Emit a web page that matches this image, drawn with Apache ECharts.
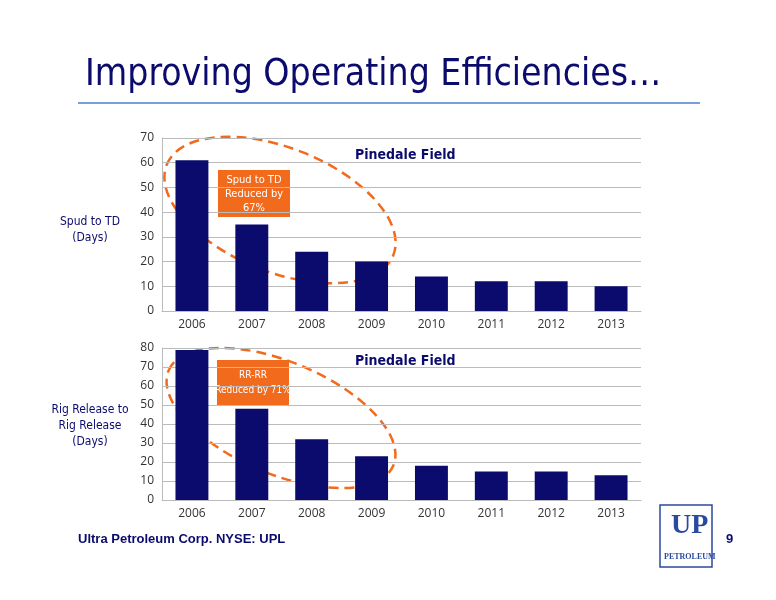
<!DOCTYPE html>
<html><head><meta charset="utf-8">
<script src="https://cdn.jsdelivr.net/npm/echarts@6/dist/echarts.min.js"></script>
<style>body{margin:0;background:#fff}#c{width:776px;height:600px}</style>
</head><body><div id="c"></div>
<script>
const years = ['2006', '2007', '2008', '2009', '2010', '2011', '2012', '2013'];
const spudToTd = [61, 35, 24, 20, 14, 12, 12, 10];
const rigToRig = [79, 48, 32, 23, 18, 15, 15, 13];

const navy = '#0b0b6e';
const orange = '#f26a1b';
const chart = echarts.init(document.getElementById('c'));

const xAx = (i) => ({
  type: 'category', gridIndex: i, data: years,
  axisTick: {show: false}, axisLine: {lineStyle: {color: '#bbb'}},
  axisLabel: {color: '#333', fontSize: 12, fontFamily: 'Open Sans'}
});
const yAx = (i, max) => ({
  type: 'value', gridIndex: i, min: 0, max: max, interval: 10,
  axisLabel: {color: '#333', fontSize: 12, fontFamily: 'Open Sans'},
  splitLine: {lineStyle: {color: '#bbb'}}, axisLine: {show: true, lineStyle: {color: '#bbb'}}
});

chart.setOption({
  animation: false,
  title: [
    {text: 'Improving Operating Efficiencies…', left: 80, top: 52,
     textStyle: {color: navy, fontSize: 37, fontWeight: 'normal', fontFamily: 'DejaVu Sans Condensed'}},
    {text: 'Pinedale Field', left: 350, top: 143, textStyle: {color: navy, fontSize: 14, fontWeight: 'bold', fontFamily: 'DejaVu Sans Condensed'}},
    {text: 'Pinedale Field', left: 350, top: 349, textStyle: {color: navy, fontSize: 14, fontWeight: 'bold', fontFamily: 'DejaVu Sans Condensed'}}
  ],
  grid: [
    {left: 162, right: 135, top: 138, height: 173},
    {left: 162, right: 135, top: 348, height: 152}
  ],
  xAxis: [xAx(0), xAx(1)],
  yAxis: [yAx(0, 70), yAx(1, 80)],
  series: [
    {type: 'bar', xAxisIndex: 0, yAxisIndex: 0, data: spudToTd, barWidth: '55%', itemStyle: {color: navy}},
    {type: 'bar', xAxisIndex: 1, yAxisIndex: 1, data: rigToRig, barWidth: '55%', itemStyle: {color: navy}}
  ],
  graphic: [
    {type: 'line', shape: {x1: 78, y1: 103, x2: 700, y2: 103}, style: {stroke: '#4a7fd0', lineWidth: 1.5}},
    {type: 'text', style: {text: 'Spud to TD\n(Days)', fill: navy, font: '12px DejaVu Sans Condensed', textAlign: 'center', x: 90, y: 214, lineHeight: 16}},
    {type: 'text', style: {text: 'Rig Release to\nRig Release\n(Days)', fill: navy, font: '12px DejaVu Sans Condensed', textAlign: 'center', x: 90, y: 402, lineHeight: 16}},
    {type: 'rect', shape: {x: 218, y: 170, width: 72, height: 47}, style: {fill: orange}},
    {type: 'text', style: {text: 'Spud to TD\nReduced by\n67%', fill: '#fff', font: '11px DejaVu Sans Condensed', textAlign: 'center', x: 254, y: 173, lineHeight: 14}},
    {type: 'rect', shape: {x: 217, y: 360, width: 72, height: 45}, style: {fill: orange}},
    {type: 'text', style: {text: 'RR-RR\nReduced by 71%', fill: '#fff', font: '10px DejaVu Sans Condensed', textAlign: 'center', x: 253, y: 368, lineHeight: 15}},
    {type: 'ellipse', shape: {cx: 0, cy: 0, rx: 122, ry: 62}, x: 280, y: 210, rotation: -0.38,
     style: {fill: 'none', stroke: orange, lineWidth: 2.5, lineDash: [10, 6]}},
    {type: 'ellipse', shape: {cx: 0, cy: 0, rx: 122, ry: 56}, x: 281, y: 418, rotation: -0.4,
     style: {fill: 'none', stroke: orange, lineWidth: 2.5, lineDash: [10, 6]}},
    {type: 'text', style: {text: 'Ultra Petroleum Corp. NYSE: UPL', fill: navy, font: 'bold 13px Liberation Sans', x: 78, y: 533}},
    {type: 'text', style: {text: '9', fill: navy, font: 'bold 13px Liberation Sans', x: 726, y: 533}},
    {type: 'rect', shape: {x: 660, y: 505, width: 52, height: 62}, style: {fill: '#fff', stroke: '#2a4aa0', lineWidth: 1.5}},
    {type: 'text', style: {text: 'UP', fill: '#2a4aa0', font: 'bold 28px Liberation Serif', x: 671, y: 512}},
    {type: 'text', style: {text: 'PETROLEUM', fill: '#2a4aa0', font: 'bold 8px Liberation Serif', x: 664, y: 553}}
  ]
});
</script></body></html>
